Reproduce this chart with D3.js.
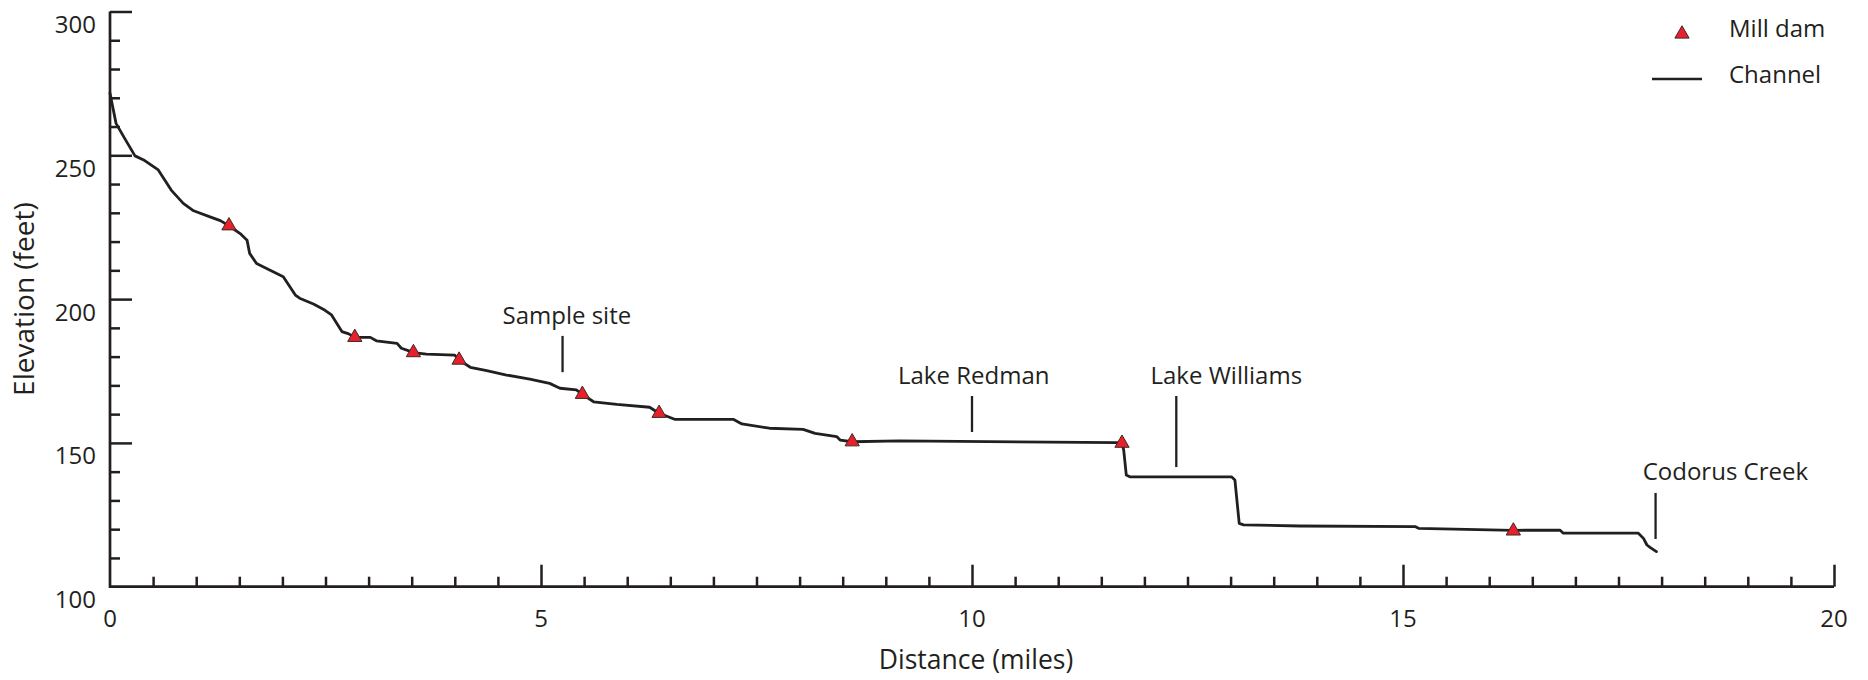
<!DOCTYPE html>
<html>
<head>
<meta charset="utf-8">
<script src="https://cdn.jsdelivr.net/npm/d3@7/dist/d3.min.js"></script>
<style>
  html, body { margin: 0; padding: 0; background: #ffffff; }
  svg text { font-family: "Open Sans", "Noto Sans", sans-serif; fill: #231f20; }
</style>
</head>
<body>
<svg id="chart" width="1868" height="680"></svg>
<script>
// Longitudinal channel profile (distance downstream in miles, elevation in feet)
const channelDistance = [0, 0.07, 0.17, 0.29, 0.39, 0.56, 0.71, 0.85, 0.97, 1.16, 1.28, 1.38, 1.51, 1.59, 1.62, 1.70, 2.01, 2.15, 2.20, 2.36, 2.49, 2.57, 2.63, 2.69, 2.77, 2.84, 3.02, 3.09, 3.33, 3.38, 3.46, 3.52, 3.67, 4.00, 4.05, 4.18, 4.37, 4.60, 4.87, 5.10, 5.22, 5.41, 5.48, 5.61, 5.88, 6.26, 6.37, 6.55, 7.23, 7.33, 7.65, 8.04, 8.18, 8.43, 8.47, 8.61, 9.16, 11.68, 11.74, 11.76, 11.79, 11.83, 13.01, 13.05, 13.10, 13.15, 13.80, 15.14, 15.18, 16.28, 16.82, 16.86, 17.73, 17.79, 17.83, 17.87, 17.94];
const channelElevation = [271.6, 261.1, 255.9, 249.8, 248.4, 244.9, 237.9, 233.3, 230.7, 228.6, 227.3, 225.5, 222.8, 220.5, 215.9, 212.4, 207.8, 201.4, 200.3, 198.3, 196.2, 194.5, 191.6, 188.7, 187.9, 186.7, 186.7, 185.5, 184.6, 182.9, 182.1, 181.4, 180.9, 180.5, 178.8, 176.3, 175.1, 173.6, 172.2, 170.7, 169.0, 168.4, 166.9, 164.3, 163.4, 162.4, 160.3, 158.2, 158.2, 156.6, 155.1, 154.7, 153.3, 152.2, 151.0, 150.4, 150.7, 150.1, 149.9, 147.5, 138.8, 138.2, 138.2, 137.1, 122.0, 121.5, 121.1, 120.9, 120.3, 119.6, 119.7, 118.6, 118.6, 116.8, 114.5, 113.6, 112.2];

// Mill dam locations
const damDistance = [1.38, 2.84, 3.52, 4.05, 5.48, 6.37, 8.61, 11.74, 16.28];
const damElevation = [225.5, 186.7, 181.4, 178.8, 166.9, 160.3, 150.4, 149.9, 119.4];

// Named places along the profile: pointer at distance, pointer span and label in elevation units
const placeNames = ["Sample site", "Lake Redman", "Lake Williams", "Codorus Creek"];
const placeDistance = [5.25, 10.0, 12.37, 17.93];
const placeLabelDistance = [5.30, 10.02, 12.95, 18.74];
const placeLabelElevation = [191.3, 170.5, 170.5, 137.1];
const placeTop = [187.2, 166.3, 166.3, 132.6];
const placeBottom = [174.6, 153.8, 141.6, 116.6];

// Axis ticks
const xMajorTicks = [0, 5, 10, 15, 20];
const xMinorTicks = d3.range(0.5, 20, 0.5).filter(v => v % 5 !== 0);
const yMajorTicks = [100, 150, 200, 250, 300];
const yMinorTicks = d3.range(110, 300, 10).filter(v => v % 50 !== 0);

const legendLabels = ["Mill dam", "Channel"];

const ink = "#231f20";
const damFill = "#e8202a";

const svg = d3.select("#chart");
svg.append("rect").attr("width", 1868).attr("height", 680).attr("fill", "#ffffff");

const x = d3.scaleLinear().domain([0, 20]).range([110, 1834]);
const y = d3.scaleLinear().domain([100, 300]).range([586.7, 11.5]);

// Axes: ticks point inward, major ticks longer
const gx = svg.append("g").attr("transform", `translate(0,${y(100)})`);
gx.call(d3.axisTop(x).tickValues(xMinorTicks).tickSize(10).tickFormat(""))
  .call(g => g.select(".domain").remove());
gx.append("g").call(d3.axisTop(x).tickValues(xMajorTicks.filter(v => v > 0)).tickSize(22).tickFormat(""))
  .call(g => g.select(".domain").remove());
gx.selectAll("line").attr("stroke", ink).attr("stroke-width", 2.5);

const gy = svg.append("g").attr("transform", `translate(${x(0)},0)`);
gy.call(d3.axisRight(y).tickValues(yMinorTicks).tickSize(10).tickFormat(""))
  .call(g => g.select(".domain").remove());
gy.append("g").call(d3.axisRight(y).tickValues(yMajorTicks.filter(v => v > 100)).tickSize(22).tickFormat(""))
  .call(g => g.select(".domain").remove());
gy.selectAll("line").attr("stroke", ink).attr("stroke-width", 2.5);

// Axis lines
svg.append("path")
  .attr("d", `M${x(0)},${y(300)}V${y(100)}H${x(20)}`)
  .attr("fill", "none").attr("stroke", ink).attr("stroke-width", 2.7)
  .attr("stroke-linejoin", "miter");

// Tick labels
svg.append("g").selectAll("text").data(yMajorTicks).join("text")
  .attr("x", 96).attr("y", d => y(d) + 12)
  .attr("text-anchor", "end").attr("dominant-baseline", "central")
  .style("font-size", "24px").text(d => d);

svg.append("g").selectAll("text").data(xMajorTicks).join("text")
  .attr("x", d => x(d)).attr("y", 617)
  .attr("text-anchor", "middle").attr("dominant-baseline", "central")
  .style("font-size", "24px").text(d => d);

// Axis titles
svg.append("text")
  .attr("x", x(10) + 4).attr("y", 659)
  .attr("text-anchor", "middle").attr("dominant-baseline", "central")
  .style("font-size", "26.5px").text("Distance (miles)");

svg.append("text")
  .attr("transform", `translate(23,${(y(300) + y(100)) / 2}) rotate(-90)`)
  .attr("text-anchor", "middle").attr("dominant-baseline", "central")
  .style("font-size", "28px").text("Elevation (feet)");

// Channel profile
const profile = channelDistance.map((d, i) => [d, channelElevation[i]]);
svg.append("path")
  .datum(profile)
  .attr("d", d3.line().x(d => x(d[0])).y(d => y(d[1])))
  .attr("fill", "none").attr("stroke", ink).attr("stroke-width", 2.8)
  .attr("stroke-linejoin", "round").attr("stroke-linecap", "round");

// Place pointers and labels
const places = placeNames.map((name, i) => ({
  name, d: placeDistance[i], ld: placeLabelDistance[i], le: placeLabelElevation[i],
  top: placeTop[i], bottom: placeBottom[i]
}));
const gp = svg.append("g");
gp.selectAll("line").data(places).join("line")
  .attr("x1", d => x(d.d)).attr("x2", d => x(d.d))
  .attr("y1", d => y(d.top)).attr("y2", d => y(d.bottom))
  .attr("stroke", ink).attr("stroke-width", 2.3);
gp.selectAll("text").data(places).join("text")
  .attr("x", d => x(d.ld)).attr("y", d => y(d.le))
  .attr("text-anchor", "middle")
  .style("font-size", "24px").text(d => d.name);

// Mill dams
const triangle = d3.symbol().type(d3.symbolTriangle).size(88);
svg.append("g").selectAll("path").data(damDistance.map((d, i) => [d, damElevation[i]])).join("path")
  .attr("transform", d => `translate(${x(d[0])},${y(d[1])})`)
  .attr("d", triangle)
  .attr("fill", damFill).attr("stroke", "#3b2a2a").attr("stroke-width", 1);

// Legend
const legend = svg.append("g");
legend.append("path")
  .attr("transform", "translate(1682,34)")
  .attr("d", triangle)
  .attr("fill", damFill).attr("stroke", "#3b2a2a").attr("stroke-width", 1);
legend.append("line")
  .attr("x1", 1652).attr("x2", 1702).attr("y1", 79).attr("y2", 79)
  .attr("stroke", ink).attr("stroke-width", 2.7);
legend.selectAll("text").data(legendLabels).join("text")
  .attr("x", 1729).attr("y", (d, i) => 37 + i * 46)
  .style("font-size", "24px").text(d => d);
</script>
</body>
</html>
